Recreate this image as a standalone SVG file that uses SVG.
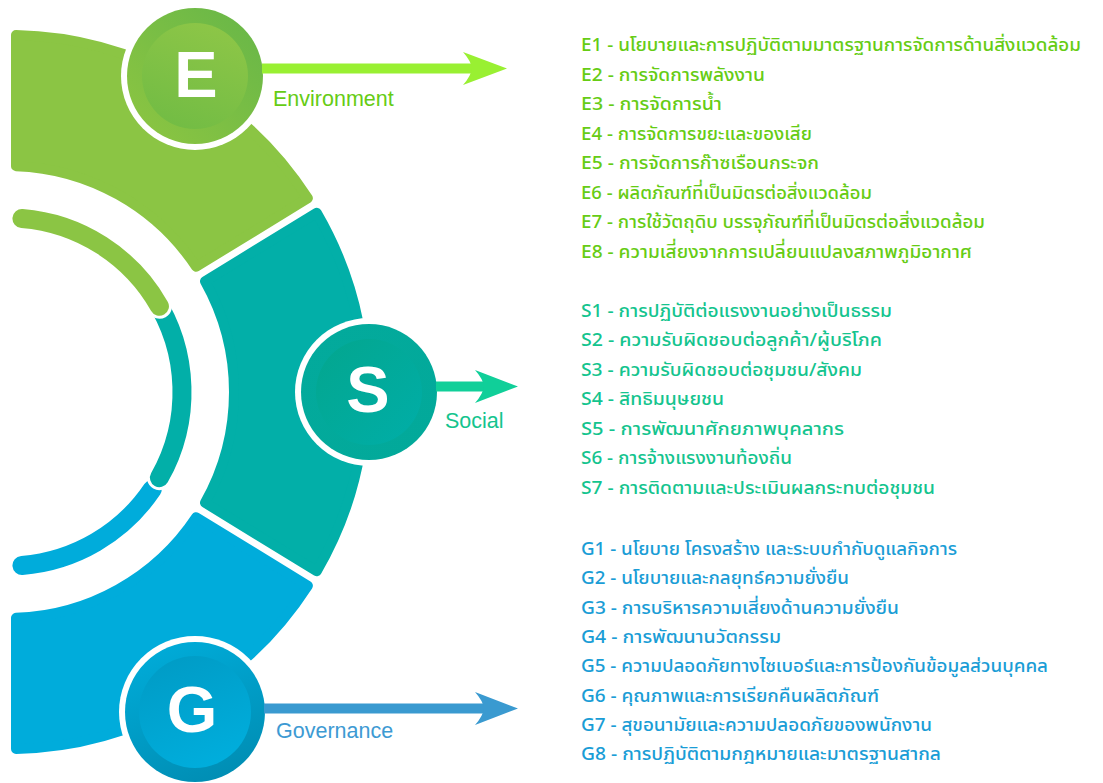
<svg xmlns="http://www.w3.org/2000/svg" width="1103" height="783" viewBox="0 0 1103 783">
<defs>
<linearGradient id="eOut" x1="1" y1="0" x2="0" y2="1"><stop offset="0" stop-color="#66b648"/><stop offset="1" stop-color="#8ec641"/></linearGradient>
<linearGradient id="eIn" x1="0.7" y1="0" x2="0.3" y2="1"><stop offset="0" stop-color="#8dc647"/><stop offset="1" stop-color="#72bc44"/></linearGradient>
<linearGradient id="sOut" x1="0" y1="0" x2="1" y2="1"><stop offset="0" stop-color="#03aa9c"/><stop offset="1" stop-color="#02a99a"/></linearGradient>
<linearGradient id="sIn" x1="0" y1="0" x2="1" y2="1"><stop offset="0" stop-color="#03a68e"/><stop offset="1" stop-color="#00aea8"/></linearGradient>
<linearGradient id="gOut" x1="0.3" y1="0" x2="0.7" y2="1"><stop offset="0" stop-color="#00abd8"/><stop offset="1" stop-color="#008db3"/></linearGradient>
<linearGradient id="gIn" x1="0.3" y1="0" x2="0.7" y2="1"><stop offset="0" stop-color="#009cc6"/><stop offset="1" stop-color="#00aedd"/></linearGradient>
</defs>
<style>
.seg{stroke-width:10;stroke-linejoin:round}
.thin{fill:none;stroke-width:19;stroke-linecap:round}
.halo{fill:none;stroke:#fff;stroke-width:25;stroke-linecap:round}
.letter{font-family:"Liberation Sans",Arial,sans-serif;font-weight:bold;font-size:65px;fill:#fff;text-anchor:middle}
.lab{font-family:"Liberation Sans",Arial,sans-serif;font-size:21.5px}
.item{font-family:"Noto Sans Thai","Noto Sans","DejaVu Sans",sans-serif;font-size:18px;font-weight:500}
.ce{fill:#66cc14}
.cs{fill:#14c48e}
.cg{fill:#1a9dd6}
</style>

<g id="ring">
<path class="seg" fill="#8bc544" stroke="#8bc544" d="M16,35.1 A357,357 0 0,1 307.87,198.27 L196.12,266.75 A226,226 0 0,0 16,166.14 Z"/>
<path class="seg" fill="#02afa8" stroke="#02afa8" d="M316.75,212.76 A357,357 0 0,1 316.75,571.24 L205,502.76 A226,226 0 0,0 205,281.24 Z"/>
<path class="seg" fill="#00acdb" stroke="#00acdb" d="M307.87,585.73 A357,357 0 0,1 16,748.9 L16,617.86 A226,226 0 0,0 196.12,517.25 Z"/>
<path class="thin" stroke="#00acdb" d="M152.25,489.3 A174,174 0 0,1 21.95,565.44"/>
<path class="halo" d="M153.93,297.23 A174,174 0 0,1 159.44,477.68"/>
<path class="thin" stroke="#02afa8" d="M153.93,297.23 A174,174 0 0,1 159.44,477.68"/>
<path class="halo" d="M21.95,218.56 A174,174 0 0,1 159.44,306.32"/>
<path class="thin" stroke="#8bc544" d="M21.95,218.56 A174,174 0 0,1 159.44,306.32"/>
</g>

<g id="node-e">
<circle cx="195" cy="76" r="74" fill="#fff"/>
<circle cx="195" cy="76" r="68" fill="url(#eOut)"/>
<circle cx="195" cy="76" r="53" fill="url(#eIn)"/>
<text class="letter" x="196" y="97">E</text>
<text class="lab ce" x="273" y="106">Environment</text>
</g>

<g id="node-s">
<circle cx="369" cy="392" r="74" fill="#fff"/>
<circle cx="369" cy="392" r="68" fill="url(#sOut)"/>
<circle cx="369" cy="392" r="53" fill="url(#sIn)"/>
<text class="letter" x="368" y="412">S</text>
<text class="lab cs" x="445" y="428">Social</text>
</g>

<g id="node-g">
<circle cx="195" cy="712" r="76" fill="#fff"/>
<circle cx="195" cy="712" r="70" fill="url(#gOut)"/>
<circle cx="195" cy="712" r="56" fill="url(#gIn)"/>
<text class="letter" x="192" y="732">G</text>
<text class="lab" x="276" y="738" fill="#3d9ad3">Governance</text>
</g>

<g id="connectors">
<rect x="262" y="63.5" width="212" height="10" fill="#99f032"/>
<path fill="#99f032" d="M507,68.5 L463,52 Q471,61 472,68.5 Q471,76 463,85 Z"/>
<rect x="436" y="381.5" width="49" height="10" fill="#10cf99"/>
<path fill="#10cf99" d="M518,386.5 L475,370 Q483,379 484,386.5 Q483,394 475,403 Z"/>
<rect x="264" y="703.5" width="221" height="10" fill="#3a9ad0"/>
<path fill="#3a9ad0" d="M518,708.5 L475,692 Q483,701 484,708.5 Q483,716 475,725 Z"/>
</g>

<g id="list-e" class="item ce">
<text x="581" y="51" textLength="500" lengthAdjust="spacingAndGlyphs">E1 - นโยบายและการปฏิบัติตามมาตรฐานการจัดการด้านสิ่งแวดล้อม</text>
<text x="581" y="80.5" textLength="184" lengthAdjust="spacingAndGlyphs">E2 - การจัดการพลังงาน</text>
<text x="581" y="110" textLength="141" lengthAdjust="spacingAndGlyphs">E3 - การจัดการน้ำ</text>
<text x="581" y="139.5" textLength="231" lengthAdjust="spacingAndGlyphs">E4 - การจัดการขยะและของเสีย</text>
<text x="581" y="169" textLength="238" lengthAdjust="spacingAndGlyphs">E5 - การจัดการก๊าซเรือนกระจก</text>
<text x="581" y="198.5" textLength="291" lengthAdjust="spacingAndGlyphs">E6 - ผลิตภัณฑ์ที่เป็นมิตรต่อสิ่งแวดล้อม</text>
<text x="581" y="228" textLength="404" lengthAdjust="spacingAndGlyphs">E7 - การใช้วัตถุดิบ บรรจุภัณฑ์ที่เป็นมิตรต่อสิ่งแวดล้อม</text>
<text x="581" y="257.5" textLength="391" lengthAdjust="spacingAndGlyphs">E8 - ความเสี่ยงจากการเปลี่ยนแปลงสภาพภูมิอากาศ</text>
</g>

<g id="list-s" class="item cs">
<text x="581" y="316.5" textLength="311" lengthAdjust="spacingAndGlyphs">S1 - การปฏิบัติต่อแรงงานอย่างเป็นธรรม</text>
<text x="581" y="346" textLength="301" lengthAdjust="spacingAndGlyphs">S2 - ความรับผิดชอบต่อลูกค้า/ผู้บริโภค</text>
<text x="581" y="375.5" textLength="281" lengthAdjust="spacingAndGlyphs">S3 - ความรับผิดชอบต่อชุมชน/สังคม</text>
<text x="581" y="405" textLength="143" lengthAdjust="spacingAndGlyphs">S4 - สิทธิมนุษยชน</text>
<text x="581" y="434.5" textLength="263" lengthAdjust="spacingAndGlyphs">S5 - การพัฒนาศักยภาพบุคลากร</text>
<text x="581" y="464" textLength="211" lengthAdjust="spacingAndGlyphs">S6 - การจ้างแรงงานท้องถิ่น</text>
<text x="581" y="493.5" textLength="354" lengthAdjust="spacingAndGlyphs">S7 - การติดตามและประเมินผลกระทบต่อชุมชน</text>
</g>

<g id="list-g" class="item cg">
<text x="581" y="555" textLength="376" lengthAdjust="spacingAndGlyphs">G1 - นโยบาย โครงสร้าง และระบบกำกับดูแลกิจการ</text>
<text x="581" y="584.3" textLength="268" lengthAdjust="spacingAndGlyphs">G2 - นโยบายและกลยุทธ์ความยั่งยืน</text>
<text x="581" y="613.6" textLength="318" lengthAdjust="spacingAndGlyphs">G3 - การบริหารความเสี่ยงด้านความยั่งยืน</text>
<text x="581" y="642.9" textLength="200" lengthAdjust="spacingAndGlyphs">G4 - การพัฒนานวัตกรรม</text>
<text x="581" y="672.2" textLength="467" lengthAdjust="spacingAndGlyphs">G5 - ความปลอดภัยทางไซเบอร์และการป้องกันข้อมูลส่วนบุคคล</text>
<text x="581" y="701.5" textLength="298" lengthAdjust="spacingAndGlyphs">G6 - คุณภาพและการเรียกคืนผลิตภัณฑ์</text>
<text x="581" y="730.8" textLength="351" lengthAdjust="spacingAndGlyphs">G7 - สุขอนามัยและความปลอดภัยของพนักงาน</text>
<text x="581" y="760" textLength="360" lengthAdjust="spacingAndGlyphs">G8 - การปฏิบัติตามกฎหมายและมาตรฐานสากล</text>
</g>
</svg>
